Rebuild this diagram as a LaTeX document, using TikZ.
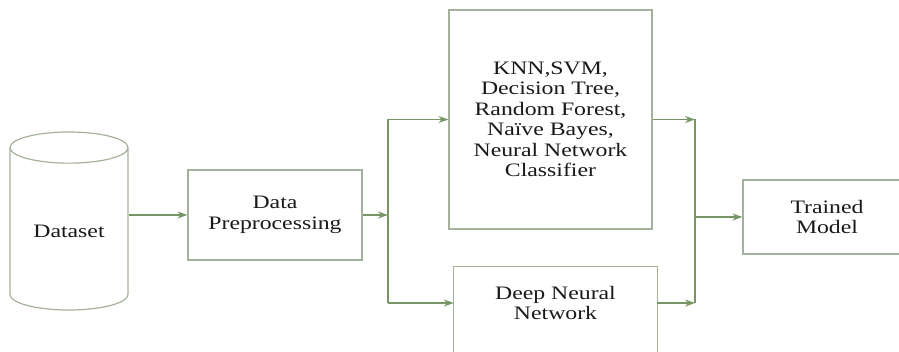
\documentclass[tikz,border=0pt]{standalone}
\usepackage{fontspec}
\setmainfont[FakeStretch=1.25]{Liberation Serif}
\usetikzlibrary{positioning, arrows.meta, shapes.geometric}
\definecolor{boxline}{RGB}{165,178,155}
\definecolor{flowline}{RGB}{118,150,102}

\begin{document}
\begin{tikzpicture}[x=1pt, y=1pt, font=\fontsize{19}{20.5}\selectfont, text=black!90,
    box/.style={draw=boxline, line width=1.2pt, fill=white, align=center, inner sep=2pt},
    flow/.style={-{Stealth[length=10pt, width=7pt]}, draw=flowline, line width=1.2pt}]
    \useasboundingbox (0,0) rectangle (899,351);
    \node [cylinder, shape border rotate=90, aspect=0.4, draw=boxline, line width=1.2pt,
      minimum height=178pt, minimum width=118pt, anchor=shape center] (data) at (69,130) {Dataset};
    \node [box, minimum width=174pt, minimum height=90pt] (prep) at (275,136) {Data\\Preprocessing};
    \node [box, minimum width=203pt, minimum height=219pt] (algo) at (550.5,231.5)
      {KNN,SVM,\\Decision Tree,\\Random Forest,\\Naïve Bayes,\\Neural Network\\Classifier};
    \node [align=center, minimum width=203pt, minimum height=72pt] (dnn) at (555.5,48) {Deep Neural\\Network};
    \draw [boxline, line width=1.2pt] (dnn.south west) ++(0,-30) -- (dnn.north west)
      -- (dnn.north east) -- ++(0,-102);
    \node [box, minimum width=168pt, minimum height=74pt] (model) at (827,134) {Trained\\Model};
    \coordinate (split) at (388,136);
    \coordinate (join) at (695,134);
    \draw [flow] (data.east |- prep) -- (prep);
    \draw [flow] (prep) -- (split);
    \draw [flowline, line width=1.2pt] (split |- algo) -- (split |- dnn);
    \draw [flow] (split |- algo) -- (algo);
    \draw [flow] (split |- dnn) -- (dnn);
    \draw [flow] (algo) -- (join |- algo);
    \draw [flow] (dnn) -- (join |- dnn);
    \draw [flowline, line width=1.2pt] (join |- algo) -- (join |- dnn);
    \draw [flow] (join) -- (model);
\end{tikzpicture}
\end{document}
